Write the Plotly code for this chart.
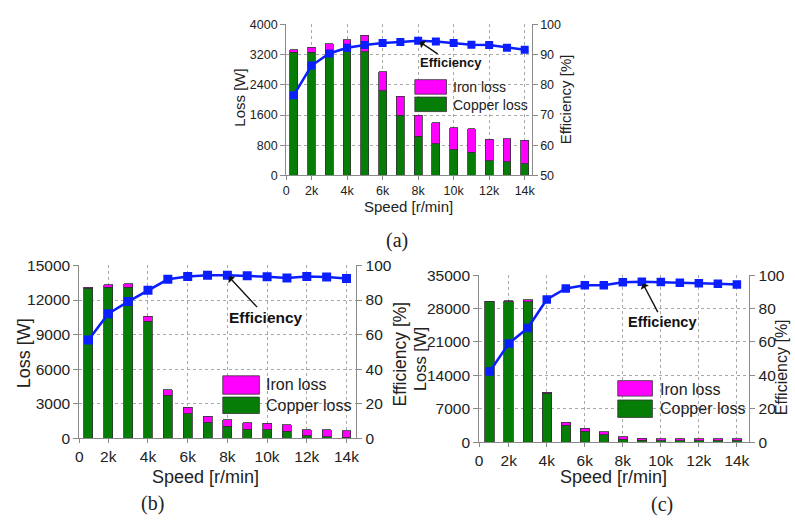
import plotly.graph_objects as go

W, H = 795, 528

speed = [1, 2, 3, 4, 5, 6, 7, 8, 9, 10, 11, 12, 13, 14]
tick_vals = [2, 4, 6, 8, 10, 12, 14]
tick_text = ["2k", "4k", "6k", "8k", "10k", "12k", "14k"]

# Panel (a)
a_copper = [3270, 3270, 3300, 3273, 3273, 2248, 1590, 1034, 838, 684, 615, 385, 368, 308]
a_iron = [63, 132, 196, 325, 436, 496, 504, 556, 555, 581, 616, 572, 606, 624]
a_eff = [76.6, 86.4, 90.4, 92.3, 93.2, 93.9, 94.2, 94.6, 94.4, 93.9, 93.3, 93.2, 92.3, 91.6]

# Panel (b)
b_copper = [13030, 13120, 13120, 10150, 3750, 2110, 1390, 1030, 780, 750, 610, 220, 110, 80]
b_iron = [90, 200, 310, 420, 470, 560, 530, 580, 580, 560, 560, 530, 610, 590]
b_eff = [56.8, 72.1, 79.1, 85.6, 92.0, 93.6, 94.4, 94.4, 94.0, 93.5, 92.7, 93.6, 93.3, 92.5]

# Panel (c)
c_copper = [29430, 29430, 29430, 10200, 3570, 2240, 1540, 560, 350, 300, 300, 300, 300, 300]
c_iron = [120, 150, 380, 260, 560, 630, 630, 560, 490, 400, 400, 400, 400, 400]
c_eff = [42.3, 59.0, 68.3, 85.4, 92.0, 94.0, 94.0, 95.7, 96.1, 95.9, 95.5, 95.1, 94.8, 94.4]

GREEN = "#067d06"
MAGENTA = "#ff00ff"
BLUE = "#0a1eff"
OUTLINE = "#333333"
GRID = "#a8a8a8"
AXC = "#8a8a8a"
FONT = "Liberation Sans, Arial, sans-serif"
SERIF = "Liberation Serif, Times New Roman, serif"


def px(x):
    return x / W


def py(y):
    return 1 - y / H


panels = [
    dict(name="a", copper=a_copper, iron=a_iron, eff=a_eff,
         xdom=(285, 533), ydom=(172, 16), xr=(0.57, 14.39), yr=(0, 4000), dt=800,
         er=(50, 100), edt=10, bw=0.44, tf=12.5, ms=8, lw=2.5,
         xa="x", ya="y", ea="y2"),
    dict(name="b", copper=b_copper, iron=b_iron, eff=b_eff,
         xdom=(76, 356), ydom=(443.5, 265), xr=(0.536, 14.5), yr=(0, 15000), dt=3000,
         er=(0, 100), edt=20, bw=0.45, tf=15.5, ms=9, lw=2.5,
         xa="x2", ya="y3", ea="y4"),
    dict(name="c", copper=c_copper, iron=c_iron, eff=c_eff,
         xdom=(480, 753), ydom=(447.5, 275), xr=(0.444, 14.66), yr=(0, 35000), dt=7000,
         er=(0, 100), edt=20, bw=0.5, tf=15.5, ms=8.5, lw=2.5,
         xa="x3", ya="y5", ea="y6"),
]

fig = go.Figure()
layout = dict(
    width=W, height=H, margin=dict(l=0, r=0, t=0, b=0),
    paper_bgcolor="white", plot_bgcolor="white",
    showlegend=False, barmode="stack",
    font=dict(family=FONT, color="#222222"),
)

for p in panels:
    fig.add_trace(go.Bar(x=speed, y=p["copper"], width=p["bw"], name="Copper loss",
                         marker=dict(color=GREEN, line=dict(color=OUTLINE, width=0.8)),
                         xaxis=p["xa"], yaxis=p["ya"]))
    fig.add_trace(go.Bar(x=speed, y=p["iron"], width=p["bw"], name="Iron loss",
                         marker=dict(color=MAGENTA, line=dict(color=OUTLINE, width=0.8)),
                         xaxis=p["xa"], yaxis=p["ya"]))
    fig.add_trace(go.Scatter(x=speed, y=p["eff"], mode="lines+markers", name="Efficiency",
                             line=dict(color=BLUE, width=p["lw"]),
                             marker=dict(symbol="square", size=p["ms"], color=BLUE),
                             xaxis=p["xa"], yaxis=p["ea"]))

    xk = "xaxis" if p["xa"] == "x" else "xaxis" + p["xa"][1:]
    yk = "yaxis" if p["ya"] == "y" else "yaxis" + p["ya"][1:]
    ek = "yaxis" + p["ea"][1:]
    tickfont = dict(family=FONT, size=p["tf"], color="#222222")
    layout[xk] = dict(
        domain=[px(p["xdom"][0]), px(p["xdom"][1])], anchor=p["ya"],
        range=list(p["xr"]), tickmode="array",
        tickvals=[p["xr"][0]] + tick_vals, ticktext=["0"] + tick_text,
        showgrid=True, gridcolor=GRID, griddash="dot", gridwidth=1,
        showline=True, linecolor=AXC, linewidth=1, zeroline=False,
        ticks="outside", ticklen=4, tickcolor=AXC, tickfont=tickfont,
    )
    layout[yk] = dict(
        domain=[py(p["ydom"][0]), py(p["ydom"][1])], anchor=p["xa"],
        range=list(p["yr"]), dtick=p["dt"], tick0=0, tickformat="d",
        showgrid=True, gridcolor=GRID, griddash="dot", gridwidth=1,
        showline=True, linecolor=AXC, linewidth=1, zeroline=False,
        ticks="outside", ticklen=5, tickcolor=AXC, tickfont=tickfont,
    )
    layout[ek] = dict(
        overlaying=p["ya"], side="right", anchor=p["xa"],
        range=list(p["er"]), dtick=p["edt"], tick0=0, tickformat="d", showgrid=False,
        showline=True, linecolor=AXC, linewidth=1, zeroline=False,
        ticks="outside", ticklen=5, tickcolor=AXC, tickfont=tickfont,
    )

fig.update_layout(**layout)

annotations = []
shapes = []


def txt(x, y, s, size, angle=0, family=FONT, xanchor="center"):
    annotations.append(dict(xref="paper", yref="paper", x=px(x), y=py(y), text=s,
                            showarrow=False, textangle=angle, xanchor=xanchor,
                            yanchor="middle",
                            font=dict(family=family, size=size, color="#222222")))


# Axis titles
txt(237, 92, "Loss [W]", 15, -90)
txt(567, 93, "Efficiency [%]", 15, -90)
txt(409, 204, "Speed [r/min]", 15)
txt(20, 356, "Loss [W]", 18, -90)
txt(400, 356, "Efficiency [%]", 17.5, -90)
txt(204, 484, "Speed [r/min]", 18)
txt(421, 362, "Loss [W]", 16.5, -90)
txt(785, 370, "Efficiency [%]", 16, -90)
txt(616, 484, "Speed [r/min]", 18)

# Panel labels
txt(397, 239, "(a)", 20, family=SERIF)
txt(150, 511, "(b)", 20, family=SERIF)
txt(665, 512, "(c)", 20, family=SERIF)

# Legends (drawn manually)
legends = [
    dict(box=(415, 447, 73, 88, 91, 106), tx=452, ty=(81, 99), fs=14),
    dict(box=(221, 258, 379, 398, 401, 418), tx=263, ty=(388, 410), fs=16),
    dict(box=(620, 655, 384, 400, 404, 422), tx=661, ty=(393, 413), fs=16),
]
for lg in legends:
    x0, x1, y0, y1, y2, y3 = lg["box"]
    shapes.append(dict(type="rect", xref="paper", yref="paper",
                       x0=px(x0), x1=px(x1), y0=py(y1), y1=py(y0),
                       fillcolor=MAGENTA, line=dict(color=OUTLINE, width=0.8)))
    shapes.append(dict(type="rect", xref="paper", yref="paper",
                       x0=px(x0), x1=px(x1), y0=py(y3), y1=py(y2),
                       fillcolor=GREEN, line=dict(color=OUTLINE, width=0.8)))
    txt(lg["tx"], lg["ty"][0], "Iron loss", lg["fs"], xanchor="left")
    txt(lg["tx"], lg["ty"][1], "Copper loss", lg["fs"], xanchor="left")

# Efficiency callouts
callouts = [
    dict(xa="x", ea="y2", x=speed[7], y=a_eff[7], ax=33, ay=22, fs=13),
    dict(xa="x2", ea="y4", x=speed[7], y=b_eff[7], ax=39, ay=42, fs=15.5),
    dict(xa="x3", ea="y6", x=speed[8], y=c_eff[8], ax=21, ay=40, fs=14.5),
]
for c in callouts:
    annotations.append(dict(xref=c["xa"], yref=c["ea"], x=c["x"], y=c["y"],
                            text="<b>Efficiency</b>", showarrow=True, ax=c["ax"], ay=c["ay"],
                            arrowhead=1, arrowsize=1.1, arrowwidth=1.4, arrowcolor="#111111",
                            standoff=2,
                            font=dict(family=FONT, size=c["fs"], color="#111111")))

fig.update_layout(annotations=annotations, shapes=shapes)
fig.write_html("out.html", config={"displayModeBar": False, "staticPlot": True},
               post_script="document.body.style.margin='0';document.body.style.overflow='hidden';")
